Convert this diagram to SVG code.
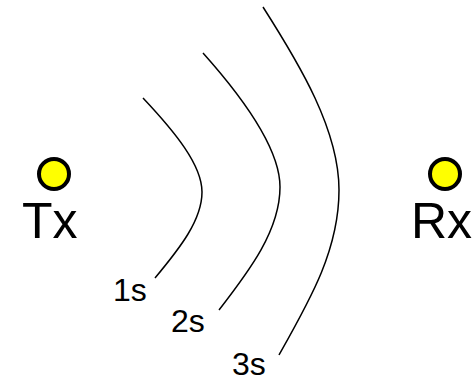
<svg xmlns="http://www.w3.org/2000/svg" width="474" height="381" viewBox="0 0 474 381">
<style>
.dot{fill:#ffff00;stroke:#000;stroke-width:4}
.big{font-family:"Liberation Sans",Arial,sans-serif;font-size:50px;fill:#000}
.lbl{font-family:"Liberation Sans",Arial,sans-serif;font-size:32px;fill:#000}
.wave{fill:none;stroke:#000;stroke-width:1.5}
</style>
<rect width="474" height="381" fill="#fff"/>
<g id="tx"><circle class="dot" cx="54" cy="174" r="15"/><text class="big" x="22" y="238">Tx</text></g>
<g id="rx"><circle class="dot" cx="445" cy="174" r="15"/><text class="big" x="472" y="238" text-anchor="end">Rx</text></g>
<g id="connectors">
<path class="wave" d="M143,98 C175,132 202,165 202,192 C202,220 180,248 155,278"/>
<path class="wave" d="M203,53 C245,100 280,150 280,187 C280,230 250,270 219,310"/>
<path class="wave" d="M263,7 C300,65 339,130 339,190 C339,250 310,300 279,355"/>
</g>
<g id="labels">
<text class="lbl" x="113" y="301">1s</text>
<text class="lbl" x="171" y="332">2s</text>
<text class="lbl" x="232" y="375">3s</text>
</g>
</svg>
